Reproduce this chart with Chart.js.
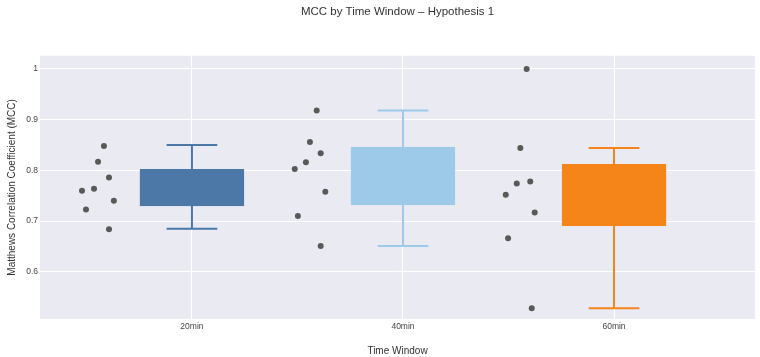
<!DOCTYPE html>
<html>
<head>
<meta charset="utf-8">
<script src="https://cdn.jsdelivr.net/npm/chart.js@4.4.0/dist/chart.umd.min.js"></script>
<style>
    body { margin: 0; background: #ffffff; }
    #wrap { width: 760px; height: 357px; }
</style>
</head>
<body>
<div id="wrap"><canvas id="mcc-chart" width="760" height="357"></canvas></div>
<script>
// categories and values
var categories = ['20min', '40min', '60min'];

var mcc_20 = [0.848, 0.817, 0.786, 0.760, 0.764, 0.740, 0.723, 0.684];
var mcc_40 = [0.918, 0.856, 0.834, 0.816, 0.803, 0.758, 0.710, 0.651];
var mcc_60 = [1.000, 0.844, 0.778, 0.774, 0.752, 0.717, 0.666, 0.528];

// box stats (q1, q3, lower whisker, upper whisker)
var box_q1 = [0.730, 0.732, 0.691];
var box_q3 = [0.802, 0.846, 0.812];
var box_lo = [0.685, 0.651, 0.528];
var box_hi = [0.850, 0.918, 0.844];

var y_ticks = [0.6, 0.7, 0.8, 0.9, 1];

// horizontal spread of the sample points, left of each box
var jitter_20 = [-0.417, -0.445, -0.393, -0.521, -0.464, -0.370, -0.502, -0.393];
var jitter_40 = [-0.409, -0.441, -0.390, -0.460, -0.513, -0.368, -0.498, -0.390];
var jitter_60 = [-0.414, -0.444, -0.397, -0.461, -0.513, -0.376, -0.502, -0.390];

var box_colors = ['#4c78a8', '#9ecae9', '#f58518'];
var FONT = 'Liberation Sans, Arial, sans-serif';

var MccChart;

function BuildPoints() {
    var all = [mcc_20, mcc_40, mcc_60];
    var jit = [jitter_20, jitter_40, jitter_60];
    var pts = [];
    for (var i = 0; i < all.length; i++) {
        for (var j = 0; j < all[i].length; j++) {
            pts.push({ x: i + jit[i][j], y: all[i][j] });
        }
    }
    return pts;
}

function BuildWhiskers(i) {
    var cap = 0.12;
    return [
        { x: i - cap, y: box_hi[i] }, { x: i + cap, y: box_hi[i] }, { x: i, y: null },
        { x: i, y: box_hi[i] }, { x: i, y: box_q3[i] }, { x: i, y: null },
        { x: i, y: box_q1[i] }, { x: i, y: box_lo[i] }, { x: i, y: null },
        { x: i - cap, y: box_lo[i] }, { x: i + cap, y: box_lo[i] }
    ];
}

function LoadMccChart() {
    var box_data = [];
    for (var i = 0; i < categories.length; i++) {
        box_data.push({ x: i, y: [box_q1[i], box_q3[i]] });
    }

    var datasets = [{
        type: 'bar',
        label: 'box',
        data: box_data,
        backgroundColor: box_colors,
        borderColor: box_colors,
        borderWidth: 2,
        borderSkipped: false,
        barThickness: 104,
        order: 2
    }];

    for (var k = 0; k < categories.length; k++) {
        datasets.push({
            type: 'line',
            label: 'whisker ' + categories[k],
            data: BuildWhiskers(k),
            borderColor: box_colors[k],
            borderWidth: 2,
            pointRadius: 0,
            spanGaps: false,
            fill: false,
            order: 3
        });
    }

    datasets.push({
        type: 'scatter',
        label: 'points',
        data: BuildPoints(),
        backgroundColor: '#595959',
        borderColor: '#595959',
        pointRadius: 3,
        borderWidth: 0,
        order: 1
    });

    var plotBg = {
        id: 'plotBg',
        beforeDraw: function (chart) {
            var a = chart.chartArea;
            var c = chart.ctx;
            c.save();
            c.fillStyle = '#eaeaf2';
            c.fillRect(a.left, a.top, a.right - a.left, a.bottom - a.top);
            c.restore();
        }
    };

    var ctx = document.getElementById('mcc-chart');
    MccChart = new Chart(ctx, {
        type: 'bar',
        data: { datasets: datasets },
        plugins: [plotBg],
        options: {
            responsive: false,
            devicePixelRatio: 1,
            animation: false,
            layout: { padding: { top: 5, right: 5, left: 0, bottom: 0 } },
            plugins: {
                legend: { display: false },
                tooltip: { enabled: false },
                title: {
                    display: true,
                    fullSize: false,
                    text: 'MCC by Time Window \u2013 Hypothesis 1',
                    color: '#333333',
                    font: { family: FONT, size: 11.5, weight: 'normal' },
                    padding: { top: 0, bottom: 37 }
                }
            },
            scales: {
                x: {
                    type: 'linear',
                    min: -0.72,
                    max: 2.668,
                    offset: false,
                    afterBuildTicks: function (scale) {
                        scale.ticks = categories.map(function (c, i) { return { value: i }; });
                    },
                    afterFit: function (scale) { scale.height = 38; },
                    ticks: {
                        callback: function (v) { return categories[v]; },
                        color: '#444444',
                        font: { family: FONT, size: 8.5 },
                        padding: 3,
                        maxRotation: 0
                    },
                    grid: { color: '#ffffff', lineWidth: 1, drawTicks: false, offset: false },
                    border: { display: false },
                    title: {
                        display: true,
                        text: 'Time Window',
                        color: '#333333',
                        font: { family: FONT, size: 10 },
                        padding: { top: 5, bottom: 0 }
                    }
                },
                y: {
                    min: 0.507,
                    max: 1.026,
                    afterBuildTicks: function (scale) {
                        scale.ticks = y_ticks.map(function (v) { return { value: v }; });
                    },
                    afterFit: function (scale) { scale.width = 40; },
                    ticks: {
                        callback: function (v) { return String(Math.round(v * 10) / 10); },
                        color: '#444444',
                        font: { family: FONT, size: 8.5 },
                        padding: 2
                    },
                    grid: { color: '#ffffff', lineWidth: 1, drawTicks: false },
                    border: { display: false },
                    title: {
                        display: true,
                        text: 'Matthews Correlation Coefficient (MCC)',
                        color: '#333333',
                        font: { family: FONT, size: 10 },
                        padding: { top: 6, bottom: 0 }
                    }
                }
            }
        }
    });
}

LoadMccChart();
</script>
</body>
</html>
